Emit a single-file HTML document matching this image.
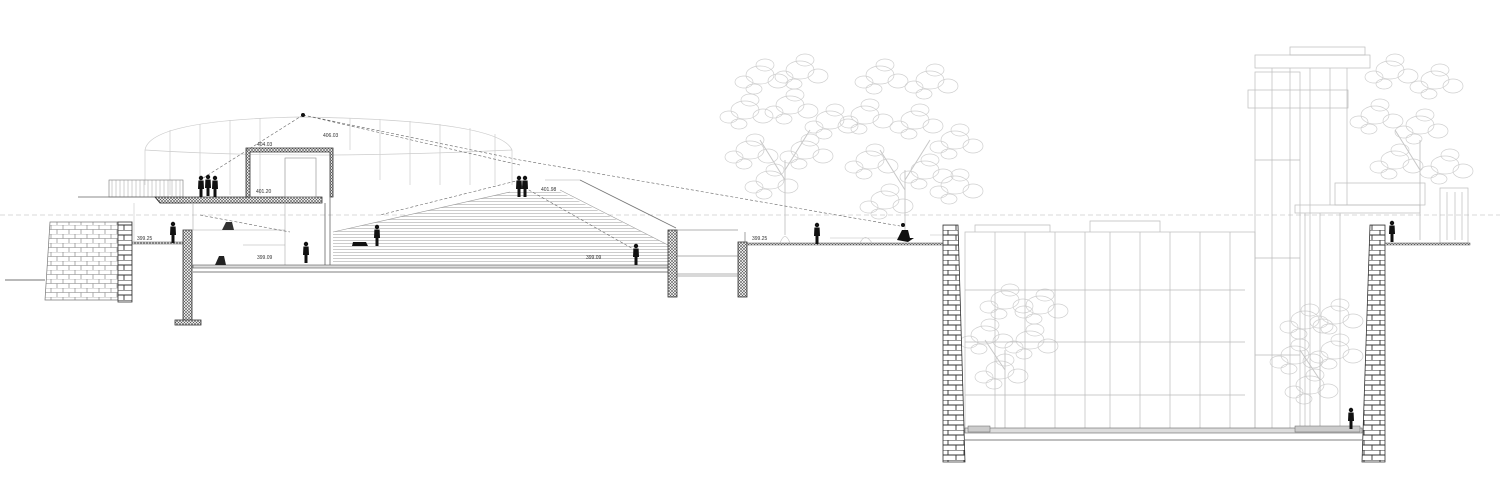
<!DOCTYPE html>
<html><head><meta charset="utf-8"><style>
html,body{margin:0;padding:0;background:#fff;}
svg{display:block;}
text{font-family:"Liberation Sans",sans-serif;font-size:5px;fill:#333;}
</style></head><body>
<svg width="1500" height="502" viewBox="0 0 1500 502" xmlns="http://www.w3.org/2000/svg">
<defs>
<pattern id="hatch" width="3" height="3" patternUnits="userSpaceOnUse">
<rect width="3" height="3" fill="#fff"/><path d="M0 0L3 3M3 0L0 3" stroke="#555" stroke-width="0.6"/>
</pattern>
<pattern id="stone" width="16" height="10" patternUnits="userSpaceOnUse">
<rect width="16" height="10" fill="#fff"/>
<path d="M0 0H16M0 5H16M4 0V5M12 5V10" stroke="#333" stroke-width="0.9" fill="none"/>
</pattern>
<pattern id="stone2" width="12" height="9" patternUnits="userSpaceOnUse">
<rect width="12" height="9" fill="#fff"/>
<path d="M0 0H12M0 4.5H12M3 0V4.5M9 4.5V9" stroke="#777" stroke-width="0.6" fill="none"/>
</pattern>
<pattern id="steps" width="10" height="3" patternUnits="userSpaceOnUse">
<rect width="10" height="3" fill="#fff"/><path d="M0 0.5H10" stroke="#aaa" stroke-width="0.6"/>
</pattern>
<g id="p"><circle cx="0" cy="-19" r="2.2" fill="#111"/><path d="M-2.6 -16.5H2.6L3 -8H1.5L1.5 0H-1.5L-1.5 -8H-3Z" fill="#111"/></g>
<g id="blob" fill="none" stroke="#cfcfcf" stroke-width="0.7">
<ellipse cx="0" cy="0" rx="14" ry="9"/><ellipse cx="18" cy="6" rx="10" ry="7"/><ellipse cx="-16" cy="7" rx="9" ry="6"/>
<ellipse cx="5" cy="-10" rx="9" ry="6"/><ellipse cx="-6" cy="14" rx="8" ry="5"/>
</g>
</defs>

<line x1="0" y1="215" x2="1500" y2="215" stroke="#ccc" stroke-width="0.8" stroke-dasharray="5 3"/>

<!-- trees -->
<g>
<use href="#blob" x="760" y="75"/><use href="#blob" x="800" y="70"/><use href="#blob" x="745" y="110"/>
<use href="#blob" x="790" y="105"/><use href="#blob" x="830" y="120"/><use href="#blob" x="750" y="150"/>
<use href="#blob" x="805" y="150"/><use href="#blob" x="770" y="180"/>
<use href="#blob" x="880" y="75"/><use href="#blob" x="930" y="80"/><use href="#blob" x="865" y="115"/>
<use href="#blob" x="915" y="120"/><use href="#blob" x="955" y="140"/><use href="#blob" x="870" y="160"/>
<use href="#blob" x="925" y="170"/><use href="#blob" x="955" y="185"/><use href="#blob" x="885" y="200"/>
<use href="#blob" x="1390" y="70"/><use href="#blob" x="1435" y="80"/><use href="#blob" x="1375" y="115"/>
<use href="#blob" x="1420" y="125"/><use href="#blob" x="1395" y="160"/><use href="#blob" x="1445" y="165"/>
<use href="#blob" x="1005" y="300"/><use href="#blob" x="1040" y="305"/><use href="#blob" x="985" y="335"/>
<use href="#blob" x="1030" y="340"/><use href="#blob" x="1000" y="370"/>
<use href="#blob" x="1305" y="320"/><use href="#blob" x="1335" y="315"/><use href="#blob" x="1295" y="355"/>
<use href="#blob" x="1335" y="350"/><use href="#blob" x="1310" y="385"/>
</g>
<g stroke="#c8c8c8" stroke-width="1" fill="none">
<path d="M785 235V160M785 180L760 140M785 170L810 130"/><path d="M905 230V170M905 190L880 150M905 180L930 140"/>
<path d="M1420 240V140M1420 170L1395 130"/><path d="M1005 432V350M1005 370L985 340"/><path d="M1320 432V360M1320 380L1300 350"/>
</g>

<!-- cylinder -->
<g fill="none" stroke="#ccc" stroke-width="0.7">
<path d="M145 185V150Q150 120 300 117Q500 120 512 150V185"/>
<path d="M145 150Q300 160 512 150"/>
<path d="M170 130V195M200 124V195M230 120V195M260 118V195M350 118V150M380 119V180M410 121V185M440 124V185M470 128V185M495 134V185"/>
</g>

<path d="M50 222H118V300H45Z" fill="url(#stone2)" stroke="#777" stroke-width="0.7"/>
<rect x="118" y="222" width="14" height="80" fill="url(#stone)" stroke="#333" stroke-width="0.8"/>
<line x1="5" y1="280" x2="45" y2="280" stroke="#444" stroke-width="0.8"/>
<rect x="132" y="242" width="52" height="2" fill="url(#hatch)" stroke="#555" stroke-width="0.5"/>

<rect x="109" y="180" width="74" height="17" fill="none" stroke="#777" stroke-width="0.6"/>
<path d="M112 180V197M116 180V197M120 180V197M124 180V197M128 180V197M132 180V197M136 180V197M140 180V197M144 180V197M148 180V197M152 180V197M156 180V197M160 180V197M164 180V197M168 180V197M172 180V197M176 180V197M180 180V197" stroke="#888" stroke-width="0.4"/>
<path d="M78 197H155L160 203H185" fill="none" stroke="#666" stroke-width="0.7"/>
<line x1="134" y1="203" x2="134" y2="242" stroke="#bbb" stroke-width="0.5"/>

<path d="M155 197H322V203H160Z" fill="url(#hatch)" stroke="#333" stroke-width="0.8"/>
<path d="M246 148H333V197H330V152H250V197H246Z" fill="url(#hatch)" stroke="#333" stroke-width="0.8"/>
<rect x="285" y="158" width="31" height="39" fill="none" stroke="#888" stroke-width="0.6"/>
<line x1="325" y1="203" x2="325" y2="265" stroke="#666" stroke-width="0.8"/>
<line x1="330" y1="197" x2="330" y2="265" stroke="#666" stroke-width="0.8"/>
<path d="M193 230H285V265M285 203V265M243 245H285M193 203V230" fill="none" stroke="#aaa" stroke-width="0.6"/>
<rect x="183" y="230" width="9" height="92" fill="url(#hatch)" stroke="#333" stroke-width="0.8"/>
<rect x="175" y="320" width="26" height="5" fill="url(#hatch)" stroke="#333" stroke-width="0.8"/>
<rect x="193" y="265" width="475" height="3" fill="#ddd" stroke="#555" stroke-width="0.6"/>
<line x1="193" y1="272" x2="668" y2="272" stroke="#555" stroke-width="0.8"/>

<path d="M333 232L510 192H560L668 245V265H333Z" fill="url(#steps)"/>
<path d="M333 232L510 192M560 190L668 245" fill="none" stroke="#999" stroke-width="0.6"/>
<path d="M580 180L676 228" stroke="#777" stroke-width="0.8" fill="none"/>
<path d="M545 180H580" stroke="#aaa" stroke-width="0.6"/>

<rect x="668" y="230" width="9" height="67" fill="url(#hatch)" stroke="#333" stroke-width="0.8"/>
<rect x="738" y="242" width="9" height="55" fill="url(#hatch)" stroke="#333" stroke-width="0.8"/>
<path d="M677 230H738M677 256H738M677 274H738M677 276H738M745 232V242" stroke="#666" stroke-width="0.6" fill="none"/>
<rect x="747" y="243" width="198" height="2" fill="url(#hatch)" stroke="#555" stroke-width="0.5"/>
<g fill="none" stroke="#bbb" stroke-width="0.6"><path d="M780 243Q785 230 790 243M830 238H900M930 235H945M860 243Q865 232 872 243"/></g>

<g fill="none" stroke="#bbb" stroke-width="0.7">
<rect x="965" y="232" width="290" height="200"/>
<path d="M975 232V225H1050V232M1090 232V221H1160V232"/>
<path d="M995 232V432M1025 232V432M1055 232V432M1085 232V432M1110 232V432M1140 232V432M1170 232V432M1200 232V432M1230 232V432M965 290H1245M965 342H1245M965 395H1245"/>
<rect x="1255" y="72" width="45" height="360"/>
<rect x="1248" y="90" width="100" height="18"/><rect x="1255" y="55" width="115" height="13"/>
<rect x="1290" y="47" width="75" height="8"/>
<path d="M1272 68V432M1290 68V432M1310 68V432M1330 68V205M1347 68V205M1255 160H1300M1255 258H1300M1255 355H1300"/>
<rect x="1295" y="205" width="125" height="8"/><rect x="1335" y="183" width="90" height="22"/>
<path d="M1305 213V432M1320 213V432M1340 213V432"/>
<rect x="1440" y="188" width="28" height="55"/>
<path d="M1447 192V240M1455 192V240M1462 192V240"/>
</g>

<path d="M943 225H958L965 462H943Z" fill="url(#stone)" stroke="#333" stroke-width="0.8"/>
<path d="M1370 225H1385V462H1362Z" fill="url(#stone)" stroke="#333" stroke-width="0.8"/>
<rect x="965" y="428" width="397" height="5" fill="#ddd" stroke="#666" stroke-width="0.6"/>
<rect x="968" y="426" width="22" height="6" fill="#ccc" stroke="#666" stroke-width="0.5"/>
<rect x="1295" y="426" width="65" height="6" fill="#ccc" stroke="#666" stroke-width="0.5"/>
<line x1="965" y1="440" x2="1362" y2="440" stroke="#555" stroke-width="0.8"/>
<rect x="1385" y="243" width="85" height="2" fill="url(#hatch)" stroke="#555" stroke-width="0.5"/>

<g stroke="#666" stroke-width="0.6" stroke-dasharray="3 2" fill="none">
<path d="M303 115L200 180M303 115L520 160L900 226M303 115L520 165M520 180L380 215M520 185L635 250M200 215L290 232"/>
</g>
<circle cx="303" cy="115" r="2" fill="#111"/>

<use href="#p" x="201" y="197"/><use href="#p" x="208" y="196"/><use href="#p" x="215" y="197"/>
<use href="#p" x="173" y="243"/><use href="#p" x="306" y="263"/><use href="#p" x="377" y="246"/>
<use href="#p" x="519" y="197"/><use href="#p" x="525" y="197"/>
<use href="#p" x="636" y="265"/><use href="#p" x="817" y="244"/><use href="#p" x="1392" y="242"/>
<use href="#p" x="1351" y="429"/>
<path d="M897 240L902 230H908L910 238H914L908 242Z" fill="#111"/><circle cx="903" cy="225" r="2" fill="#111"/>
<path d="M353 242H366L368 246H352Z" fill="#111"/>
<path d="M222 230L226 222H232L234 230Z" fill="#333"/>
<path d="M215 265L219 256H224L226 265Z" fill="#222"/>

<text x="137" y="240">399.25</text><text x="257" y="146">404.03</text><text x="323" y="137">406.03</text>
<text x="256" y="193">401.20</text><text x="257" y="259">399.09</text><text x="541" y="191">401.98</text>
<text x="586" y="259">399.09</text><text x="752" y="240">399.25</text>
</svg>
</body></html>
